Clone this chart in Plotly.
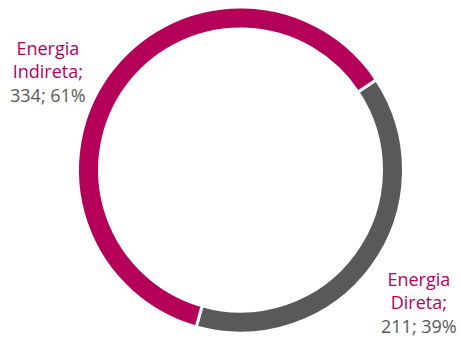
import plotly.graph_objects as go

categories = ["Energia Direta", "Energia Indireta"]
values = [211, 334]
percents = [39, 61]
colors = ["#595959", "#B5005A"]
label_lines = [["Energia", "Direta;"], ["Energia", "Indireta;"]]

W, H = 461, 338
cx, cy, r = 240.5, 170, 163

fig = go.Figure(go.Pie(
    labels=categories, values=values, sort=False, direction="clockwise",
    rotation=56.4, hole=0.865, textinfo="none", hoverinfo="label+value+percent",
    marker=dict(colors=colors, line=dict(color="white", width=3)),
    domain=dict(x=[(cx - r) / W, (cx + r) / W], y=[1 - (cy + r) / H, 1 - (cy - r) / H]),
    showlegend=False,
))

label_pos = [(419, 302), (48, 72)]
for i, cat in enumerate(categories):
    x, y = label_pos[i]
    txt = ("<span style='color:#B5005A'>" + "<br>".join(label_lines[i]) + "</span><br>"
           + f"{values[i]}; {percents[i]}%")
    fig.add_annotation(x=x / W, y=1 - y / H, xref="paper", yref="paper",
                       text=txt, showarrow=False, xanchor="center", yanchor="middle",
                       align="center", font=dict(family="Open Sans", size=18, color="#595959"))

fig.update_layout(width=W, height=H, margin=dict(l=0, r=0, t=0, b=0),
                  paper_bgcolor="white", plot_bgcolor="white")
fig.write_html("out.html")
